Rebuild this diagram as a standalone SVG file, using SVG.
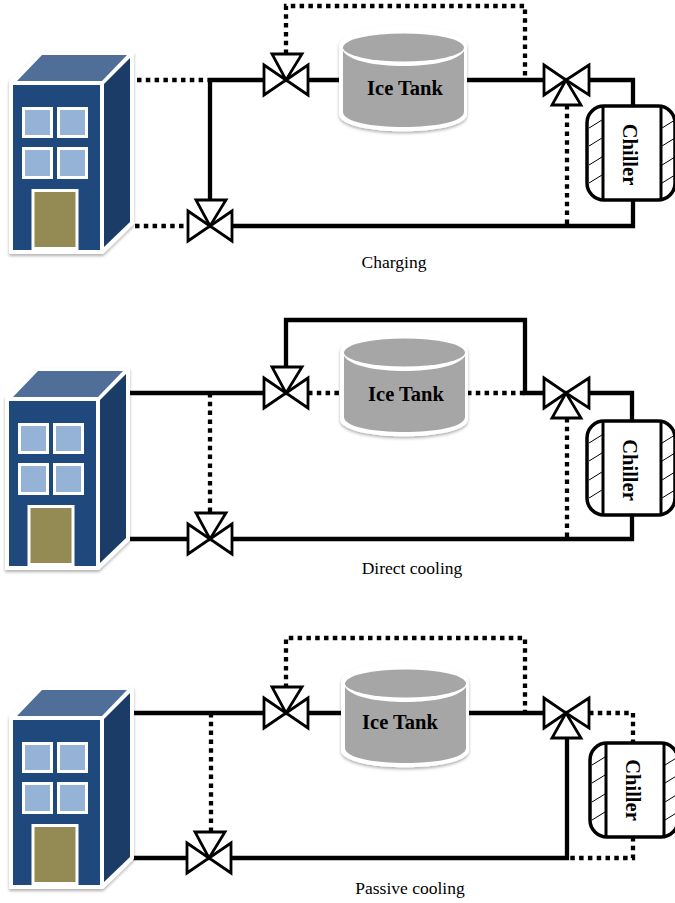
<svg xmlns="http://www.w3.org/2000/svg" width="675" height="903" viewBox="0 0 675 903">
<style>
.s{fill:none;stroke:#000;stroke-width:4.300}
.d{fill:none;stroke:#000;stroke-width:4.300;stroke-dasharray:4.500 4.300}
.v{fill:#fff;stroke:#000;stroke-width:2.800;stroke-linejoin:miter}
.h{fill:none;stroke:#000;stroke-width:1}
.w{fill:#95b3d7;stroke:#fff;stroke-width:3}
.lbl{font-family:"Liberation Serif","Times New Roman",serif;font-weight:bold;fill:#000;font-size:20.500px;text-anchor:middle}
.cap{font-family:"Liberation Serif","Times New Roman",serif;font-size:17.500px;fill:#000;text-anchor:middle}
</style>
<defs>
<filter id="sh" x="-10%" y="-10%" width="120%" height="120%"><feDropShadow dx="0" dy="2" stdDeviation="1.500" flood-color="#000" flood-opacity=".3"/></filter>
<g id="bld">
<path d="M9 81 42 52H134V224L103 254H9Z" fill="#fff" filter="url(#sh)"/>
<rect x="13" y="85" width="87" height="165" fill="#1f497d"/>
<path d="M17 81 42 55H127L102 81Z" fill="#4f6f98"/>
<path d="M104 84 130 58V222L104 247Z" fill="#1b3c66"/>
<rect class="w" x="23.500" y="108.500" width="28" height="28"/>
<rect class="w" x="58.500" y="108.500" width="28" height="28"/>
<rect class="w" x="23.500" y="148.500" width="28" height="29"/>
<rect class="w" x="58.500" y="148.500" width="28" height="29"/>
<rect x="33" y="190.500" width="44" height="58" fill="#948a54" stroke="#fff" stroke-width="3"/>
</g>
<g id="tank">
<path d="M339 47C339 18 467 18 467 47V114C467 137 339 137 339 114Z" fill="#fff" filter="url(#sh)"/>
<path d="M343 51C355 71 452 71 464 51V112C464 132 343 132 343 112Z" fill="#a6a6a6"/>
<ellipse cx="403.500" cy="47.500" rx="60.500" ry="14" fill="#a6a6a6"/>
</g>
<g id="vT"><path class="v" d="M264 65 286 80 264 95Z"/><path class="v" d="M308 65 286 80 308 95Z"/><path class="v" d="M272 54H302L286 80Z"/></g>
<g id="vB"><path class="v" d="M544 65 566 80 544 95Z"/><path class="v" d="M589 65 566 80 589 95Z"/><path class="v" d="M552 105H581L566 80Z"/></g>
<g id="ch">
<rect x="587" y="106" width="88" height="94" rx="17" fill="#fff" stroke="#000" stroke-width="3.500"/>
<path class="s" style="stroke-width:3" d="M603 106V200M661 106V200"/>
<path class="h" d="M589 128 602 120M589 146 602 138M589 165 602 157M589 183 602 175M662 128 675 120M662 146 675 138M662 165 675 157M662 183 675 175"/>
</g>
</defs>

<g id="connectors">
<path class="s" d="M210 80H264M210 80V200M308 80H340M467 80H544M589 80H633V106M633 200V226H233"/>
<path class="d" d="M137 80H210M135 226H187M286 54V6H525V80M567 105V226"/>
<path class="s" d="M130 393H264M286 370V320H525V393H544M589 393H632V421M632 516V539H233M130 539H187"/>
<path class="d" d="M210 393V512M308 393H340M467 393H525M567 418V539"/>
<path class="s" d="M133 713H264M308 713H341M469 713H544M567 738V858H232M133 858H186"/>
<path class="d" d="M211 713V835M286 688V638H525V713M589 713H633V743M633 837V858H567"/>
</g>

<g id="building-1"><use href="#bld"/></g>
<g id="tank-1"><use href="#tank"/><text class="lbl" x="405" y="95">Ice Tank</text></g>
<g id="valve-1a"><use href="#vT"/></g>
<g id="valve-1b"><use href="#vT" transform="translate(-76 146)"/></g>
<g id="valve-1c"><use href="#vB"/></g>
<g id="chiller-1"><use href="#ch"/><text class="lbl" transform="translate(623 154.500) rotate(90)">Chiller</text></g>
<text id="cap-1" class="cap" x="394" y="268">Charging</text>

<g id="building-2"><use href="#bld" transform="translate(-4 316)"/></g>
<g id="tank-2"><use href="#tank" transform="translate(1 305)"/><text class="lbl" x="406" y="401">Ice Tank</text></g>
<g id="valve-2a"><use href="#vT" transform="translate(0 313)"/></g>
<g id="valve-2b"><use href="#vT" transform="translate(-76 459)"/></g>
<g id="valve-2c"><use href="#vB" transform="translate(0 313)"/></g>
<g id="chiller-2"><use href="#ch" transform="translate(0 315)"/><text class="lbl" transform="translate(623 470) rotate(90)">Chiller</text></g>
<text id="cap-2" class="cap" x="412" y="574">Direct cooling</text>

<g id="building-3"><use href="#bld" transform="translate(0 635)"/></g>
<g id="tank-3"><use href="#tank" transform="translate(2 636)"/><text class="lbl" x="400" y="729">Ice Tank</text></g>
<g id="valve-3a"><use href="#vT" transform="translate(0 633)"/></g>
<g id="valve-3b"><use href="#vT" transform="translate(-77 778)"/></g>
<g id="valve-3c"><use href="#vB" transform="translate(0 633)"/></g>
<g id="chiller-3"><use href="#ch" transform="translate(3 637)"/><text class="lbl" transform="translate(626 790) rotate(90)">Chiller</text></g>
<text id="cap-3" class="cap" x="410" y="894">Passive cooling</text>
</svg>
